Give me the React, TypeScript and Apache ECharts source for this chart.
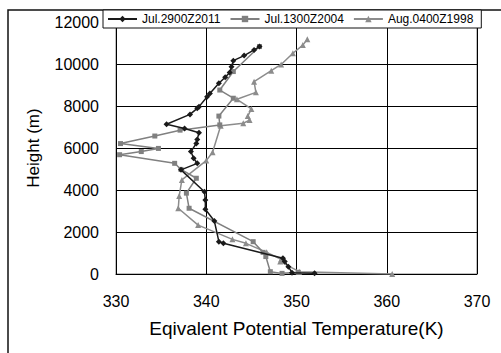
import React, { useEffect, useRef } from "react";
import * as echarts from "echarts";

const seriesNames = ["Jul.2900Z2011", "Jul.1300Z2004", "Aug.0400Z1998"];

const temp2011 = [352.0, 349.5, 349.1, 348.7, 348.5, 341.9, 341.4, 340.9, 339.9, 339.9, 339.8, 337.2, 339.0, 338.6, 338.3, 338.9, 339.0, 339.2, 337.6, 335.6, 338.2, 339.0, 339.2, 340.1, 340.4, 341.4, 342.1, 342.6, 342.8, 343.0, 344.2, 345.3, 345.9];
const height2011 = [30, 60, 350, 590, 750, 1460, 1540, 2520, 3080, 3520, 3920, 4960, 5270, 5510, 5830, 6220, 6410, 6730, 6930, 7130, 7600, 7890, 7970, 8440, 8600, 9080, 9370, 9600, 9870, 10160, 10400, 10670, 10830];

const temp2004 = [350.2, 348.4, 347.1, 346.6, 346.3, 345.2, 338.1, 337.8, 338.9, 337.2, 336.5, 330.4, 332.8, 334.7, 330.5, 334.3, 337.1, 341.5, 341.4, 343.0, 341.5, 343.0, 345.9];
const height2004 = [80, 30, 110, 830, 1030, 1540, 3130, 3850, 4560, 4980, 5270, 5680, 5830, 5980, 6210, 6570, 6850, 7100, 7520, 8370, 8760, 9640, 10830];

const temp1998 = [360.6, 350.3, 348.2, 348.3, 346.7, 344.4, 342.9, 339.1, 336.9, 337.0, 337.3, 340.0, 340.7, 341.6, 344.1, 344.8, 344.6, 345.0, 343.4, 345.5, 345.3, 347.2, 348.3, 349.6, 350.7, 351.2];
const height1998 = [0, 110, 590, 700, 1030, 1460, 1650, 2330, 3130, 3710, 4480, 5400, 5800, 7060, 7180, 7330, 7520, 7860, 8320, 8650, 9160, 9680, 9980, 10510, 10900, 11180];

const xTitle = "Eqivalent Potential Temperature(K)";
const yTitle = "Height (m)";

const pairs = (t: number[], h: number[]) => t.map((v, i) => [v, h[i]]);

export default function App() {
  const ref = useRef<HTMLDivElement>(null);
  useEffect(() => {
    if (!ref.current) return;
    const chart = echarts.init(ref.current, undefined, { renderer: "svg" });
    const font = "'Liberation Sans', Arial, sans-serif";
    chart.setOption({
      animation: false,
      backgroundColor: "#fff",
      textStyle: { fontFamily: font },
      graphic: [
        {
          type: "rect",
          z: 0,
          shape: { x: 8, y: 10, width: 600, height: 400 },
          style: { fill: "none", stroke: "#111", lineWidth: 1.5 },
        },
      ],
      grid: {
        left: 116,
        right: 24,
        top: 22,
        bottom: 79,
        show: true,
        borderColor: "#808080",
        borderWidth: 1,
        backgroundColor: "transparent",
      },
      legend: {
        left: 103,
        top: 10,
        z: 10,
        backgroundColor: "#fff",
        borderColor: "#111",
        borderWidth: 1,
        borderRadius: 0,
        padding: [3, 8, 3, 4],
        itemWidth: 29,
        itemHeight: 8,
        itemGap: 9,
        textStyle: { fontSize: 12, color: "#000", fontFamily: font },
        data: seriesNames,
      },
      xAxis: {
        type: "value",
        min: 330,
        max: 370,
        interval: 10,
        name: xTitle,
        nameLocation: "middle",
        nameGap: 45,
        nameTextStyle: { fontSize: 19, color: "#000", fontFamily: font },
        axisLine: { show: true, lineStyle: { color: "#000", width: 1 } },
        axisTick: { show: false },
        axisLabel: { fontSize: 16, color: "#000", margin: 19, formatter: (v: number) => String(v) },
        splitLine: { show: true, lineStyle: { color: "#000", width: 1 } },
      },
      yAxis: {
        type: "value",
        min: 0,
        max: 12000,
        interval: 2000,
        name: yTitle,
        nameLocation: "middle",
        nameGap: 74,
        nameTextStyle: { fontSize: 17, color: "#000", fontFamily: font },
        axisLine: { show: true, lineStyle: { color: "#000", width: 1 } },
        axisTick: { show: true, inside: true, length: 4, lineStyle: { color: "#000" } },
        axisLabel: { fontSize: 16, color: "#000", margin: 17, formatter: (v: number) => String(v) },
        splitLine: { show: true, lineStyle: { color: "#000", width: 1 } },
      },
      series: [
        {
          name: seriesNames[2],
          type: "line",
          data: pairs(temp1998, height1998),
          symbol: "triangle",
          symbolSize: 6,
          color: "#8c8c8c",
          lineStyle: { width: 1.5, color: "#8c8c8c" },
          itemStyle: { color: "#8c8c8c" },
          z: 2,
        },
        {
          name: seriesNames[1],
          type: "line",
          data: pairs(temp2004, height2004),
          symbol: "rect",
          symbolSize: 5,
          color: "#808080",
          lineStyle: { width: 1.5, color: "#808080" },
          itemStyle: { color: "#808080" },
          z: 3,
        },
        {
          name: seriesNames[0],
          type: "line",
          data: pairs(temp2011, height2011),
          symbol: "diamond",
          symbolSize: 6,
          color: "#1a1a1a",
          lineStyle: { width: 1.5, color: "#1a1a1a" },
          itemStyle: { color: "#1a1a1a" },
          z: 4,
        },
      ],
    });
    return () => chart.dispose();
  }, []);
  return (
    <div
      ref={ref}
      style={{ position: "fixed", left: 0, top: 0, width: 501, height: 353 }}
    />
  );
}
